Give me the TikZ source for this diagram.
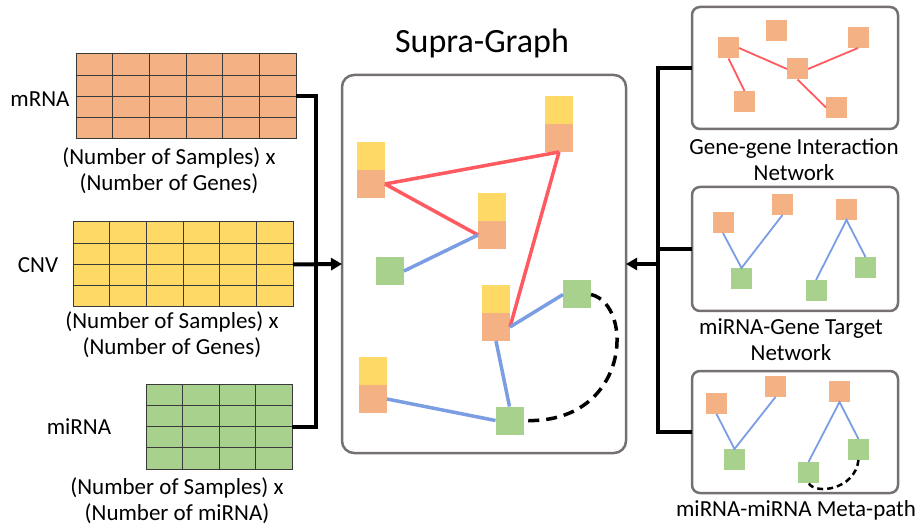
\documentclass[tikz,border=0pt]{standalone}
\usepackage{fontspec}
\setmainfont{Carlito}
\usetikzlibrary{arrows.meta,calc}
\definecolor{corange}{HTML}{F4B183}
\definecolor{cyellow}{HTML}{FFD966}
\definecolor{cgreen}{HTML}{A9D18E}
\definecolor{cred}{HTML}{FF5A60}
\definecolor{cblue}{HTML}{7B9DE2}
\definecolor{cpanel}{HTML}{767171}
\definecolor{cgrid}{HTML}{3A3A3A}
\begin{document}
\begin{tikzpicture}[x=1pt,y=-1pt,
  bigsq/.style={inner sep=0,outer sep=0,minimum size=28pt},
  smallsq/.style={inner sep=0,outer sep=0,minimum size=21pt},
  gridbox/.style={draw=cgrid,line width=1pt,inner sep=0,outer sep=0},
  gridline/.style={draw=cgrid,line width=0.9pt},
  conn/.style={line width=4pt},
  arr/.style={-{Triangle[length=11pt,width=12pt]}},
  redge/.style={draw=cred,line width=3.5pt},
  bedge/.style={draw=cblue,line width=3.5pt},
  sredge/.style={draw=cred,line width=1.8pt},
  sbedge/.style={draw=cblue,line width=1.8pt},
  panel/.style={draw=cpanel,line width=2.5pt,rounded corners=8pt,inner sep=0,outer sep=0},
  lbl/.style={font=\fontsize{23}{26}\selectfont,align=center,inner sep=0}
]
\useasboundingbox (0,0) rectangle (921,529);

% ---------- left grids ----------
\node[gridbox,fill=corange,minimum width=220pt,minimum height=85pt] (mrna) at (186,96.5) {};
\node[gridbox,fill=cyellow,minimum width=220pt,minimum height=85pt] (cnv) at (183,264.5) {};
\node[gridbox,fill=cgreen,minimum width=146pt,minimum height=85pt] (mirna) at (219,426.5) {};
\foreach \g/\n in {mrna/6,cnv/6,mirna/4}{
  \pgfmathtruncatemacro{\m}{\n-1}
  \foreach \i in {1,...,\m}
    \draw[gridline] ($(\g.north west)!\i/\n!(\g.north east)$) -- ($(\g.south west)!\i/\n!(\g.south east)$);
  \foreach \j in {1,2,3}
    \draw[gridline] ($(\g.north west)!\j/4!(\g.south west)$) -- ($(\g.north east)!\j/4!(\g.south east)$);
}
\node[lbl] (lmrna) at (40,99) {mRNA};
\node[lbl] (lcnv) at (38,265) {CNV};
\node[lbl] (lmirna) at (79,427) {miRNA};
\node[lbl] (tmrna) at (169,170.5) {(Number of Samples) x\\(Number of Genes)};
\node[lbl] (tcnv) at (172,334.5) {(Number of Samples) x\\(Number of Genes)};
\node[lbl] (tmirna) at (177,500.5) {(Number of Samples) x\\(Number of miRNA)};

% ---------- supra graph ----------
\node[font=\fontsize{34}{40}\selectfont,inner sep=0] (title) at (482,43) {Supra-Graph};
\node[panel,rounded corners=12pt,minimum width=284pt,minimum height=378pt] (supra) at (484,264) {};

\node[bigsq,fill=cyellow] (Ay) at (371,156) {};
\node[bigsq,fill=corange] (A) at (371,184) {};
\node[bigsq,fill=cyellow] (By) at (559,110) {};
\node[bigsq,fill=corange] (B) at (559,138) {};
\node[bigsq,fill=cyellow] (Cy) at (492,207) {};
\node[bigsq,fill=corange] (C) at (492,235) {};
\node[bigsq,fill=cyellow] (Dy) at (496,299) {};
\node[bigsq,fill=corange] (D) at (496,327) {};
\node[bigsq,fill=cyellow] (Gy) at (373,371) {};
\node[bigsq,fill=corange] (G) at (373,399) {};
\node[bigsq,fill=cgreen] (E) at (390,271) {};
\node[bigsq,fill=cgreen] (F) at (577,294.5) {};
\node[bigsq,fill=cgreen] (H) at (509.5,420.5) {};

\draw[redge] (A.east) -- (B.south);
\draw[redge] (A.east) -- (C.west);
\draw[redge] (B.south) -- (D.east);
\draw[bedge] (E.east) -- (C.west);
\draw[bedge] (D.east) -- (F.west);
\draw[bedge] (D.south) -- (H.north);
\draw[bedge] (G.east) -- (H.west);
\draw[line width=3.5pt,dash pattern=on 11pt off 7pt] (F.east) .. controls (635,305) and (630,425) .. (H.east);

% ---------- right panels ----------
\node[panel,minimum width=206pt,minimum height=122pt] (box1) at (795,68) {};
\node[panel,minimum width=206pt,minimum height=124pt] (box2) at (795,249) {};
\node[panel,minimum width=206pt,minimum height=122pt] (box3) at (795,432) {};
\node[lbl] (l1) at (794,160) {Gene-gene Interaction\\Network};
\node[lbl] (l2) at (791,340) {miRNA-Gene Target\\Network};
\node[lbl] (l3) at (796,510) {miRNA-miRNA Meta-path};

% box1
\node[smallsq,fill=corange] (n1) at (728.5,48) {};
\node[smallsq,fill=corange] (n2) at (776.5,30.5) {};
\node[smallsq,fill=corange] (n3) at (858,37.5) {};
\node[smallsq,fill=corange] (n4) at (797.5,69) {};
\node[smallsq,fill=corange] (n5) at (744.5,101.5) {};
\node[smallsq,fill=corange] (n6) at (836.5,107.5) {};
\draw[sredge] (n1.east) -- (n4.west);
\draw[sredge] (n1.south) -- (n5.north);
\draw[sredge] (n4.east) -- (n3.south);
\draw[sredge] (n4.south) -- (n6.west);

% box2
\node[smallsq,fill=corange] (o1) at (723,222.5) {};
\node[smallsq,fill=corange] (o2) at (782.5,204.5) {};
\node[smallsq,fill=corange] (o3) at (846.5,209.5) {};
\node[smallsq,fill=cgreen] (g1) at (741.5,278.5) {};
\node[smallsq,fill=cgreen] (g2) at (816,290.5) {};
\node[smallsq,fill=cgreen] (g3) at (865.5,267.5) {};
\draw[sbedge] (o1.south) -- (g1.north) -- (o2.south);
\draw[sbedge] (g2.north) -- (o3.south) -- (g3.north);

% box3
\node[smallsq,fill=corange] (p1) at (716.5,403.5) {};
\node[smallsq,fill=corange] (p2) at (775.5,386.5) {};
\node[smallsq,fill=corange] (p3) at (839.5,391.5) {};
\node[smallsq,fill=cgreen] (q1) at (734.5,459.5) {};
\node[smallsq,fill=cgreen] (q2) at (808.5,472.5) {};
\node[smallsq,fill=cgreen] (q3) at (858.5,449.5) {};
\draw[sbedge] (p1.south) -- (q1.north) -- (p2.south);
\draw[sbedge] (q2.north) -- (p3.south) -- (q3.north);
\draw[line width=2.5pt,dash pattern=on 6pt off 4pt] (q3.south) .. controls (855,490) and (815,495) .. (q2.south);

% ---------- connectors ----------
\coordinate (jl) at (316,264);
\coordinate (jr) at (658,264);
\draw[conn] (mrna.east) -| (jl) |- (mirna.east);
\draw[conn,arr] (cnv.east) -- (supra.west);
\draw[conn] (box1.west) -| (jr) |- (box3.west);
\draw[conn] (box2.west) -| (jr);
\draw[conn,arr] (jr) -- (supra.east);
\end{tikzpicture}
\end{document}
